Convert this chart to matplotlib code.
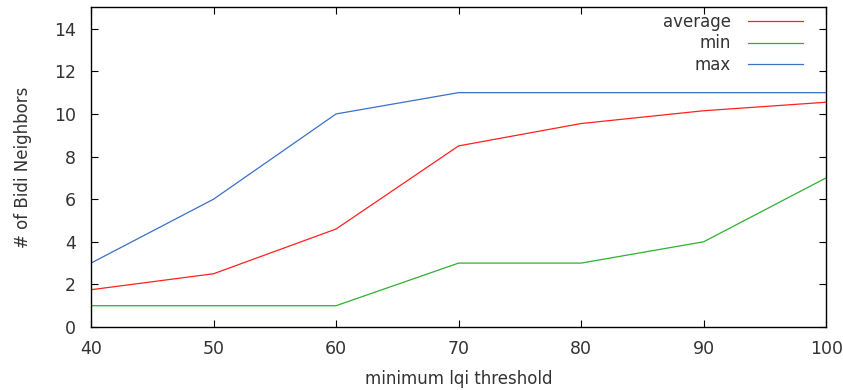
import matplotlib
matplotlib.use('Agg')
from matplotlib import pyplot

threshold = [40, 50, 60, 70, 80, 90, 100]
average = [1.75, 2.5, 4.6, 8.5, 9.55, 10.15, 10.55]
minimum = [1, 1, 1, 3, 3, 4, 7]
maximum = [3, 6, 10, 11, 11, 11, 11]

pyplot.rcParams['font.family'] = 'DejaVu Sans'
pyplot.rcParams['font.size'] = 12

fig, ax = pyplot.subplots(figsize=(8.43, 3.9), dpi=100)
fig.subplots_adjust(left=0.108, right=0.980, top=0.981, bottom=0.1615)

ax.plot(threshold, average, color='#ff2020', lw=0.9, label='average')
ax.plot(threshold, minimum, color='#30b030', lw=0.9, label='min')
ax.plot(threshold, maximum, color='#3a70c8', lw=0.9, label='max')

ax.set_xlim(40, 100)
ax.set_ylim(0, 15)
ax.set_xticks(range(40, 101, 10))
ax.set_yticks(range(0, 15, 2))
ax.tick_params(direction='in', top=True, right=True, length=5, width=0.8,
               labelsize=12.5, labelcolor='#333333')
ax.tick_params(axis='x', pad=9)
ax.tick_params(axis='y', pad=11)
for s in ax.spines.values():
    s.set_linewidth(1.0)

ax.set_xlabel('minimum lqi threshold', fontsize=12, color='#333333', labelpad=9)
ax.set_ylabel('# of Bidi Neighbors', fontsize=12, color='#333333', labelpad=16)

leg = ax.legend(loc='upper right', bbox_to_anchor=(0.975, 0.998), frameon=False,
                markerfirst=False, handlelength=3.3, fontsize=12,
                labelspacing=0.2, borderaxespad=0.0, borderpad=0.3,
                handletextpad=1.0)
for t in leg.get_texts():
    t.set_ha('right')
    t.set_color('#333333')

fig.savefig('out.png')
